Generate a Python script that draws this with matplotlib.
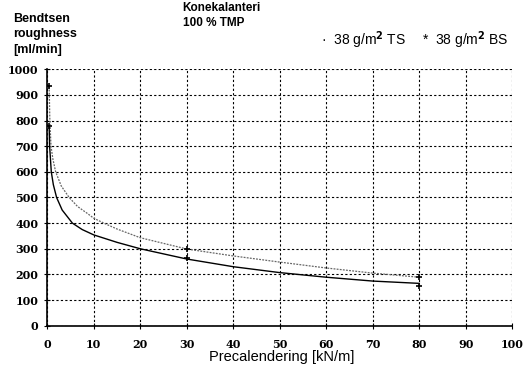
import matplotlib.pyplot as plt

# measured points
x_pts = [0.4, 30, 80]
ts_pts = [933, 298, 190]
bs_pts = [779, 264, 155]

# trend curves
ts_curve_x = [0.4, 0.55, 0.8, 1.2, 1.8, 3, 4.7, 6.5, 8.6, 10, 12.4, 15, 20, 30, 40, 50, 60, 70, 80]
ts_curve_y = [933, 800, 700, 650, 600, 545, 500, 465, 438, 419, 398, 377, 343, 299, 272, 248, 225, 205, 189]
bs_curve_x = [0.4, 0.5, 0.86, 1.3, 2.0, 3.2, 5.4, 7.5, 10, 15, 20, 30, 40, 50, 60, 70, 80]
bs_curve_y = [779, 700, 600, 550, 500, 451, 400, 375, 354, 325, 300, 260, 230, 207, 189, 174, 165]

x_ticks = [0, 10, 20, 30, 40, 50, 60, 70, 80, 90, 100]
y_ticks = [0, 100, 200, 300, 400, 500, 600, 700, 800, 900, 1000]

fig = plt.figure(figsize=(5.29, 3.78), dpi=100)
ax = fig.add_axes([0.0894, 0.1384, 0.8791, 0.6783])

ax.plot(ts_curve_x, ts_curve_y, color="#666666", lw=0.9, ls=(0, (1.5, 1)))
ax.plot(bs_curve_x, bs_curve_y, color="black", lw=1.0)
ax.plot(x_pts, ts_pts, ls="none", marker="+", ms=4, mew=1.2, color="black")
ax.plot(x_pts, bs_pts, ls="none", marker="+", ms=4, mew=1.2, color="black")

ax.set_xlim(0, 100)
ax.set_ylim(0, 1000)
ax.set_xticks(x_ticks)
ax.set_yticks(y_ticks)
ax.grid(True, color="black", ls=(0, (2, 2)), lw=0.8)
for s in ["top", "right"]:
    ax.spines[s].set_visible(False)
for s in ["left", "bottom"]:
    ax.spines[s].set_linewidth(1.2)
ax.tick_params(direction="inout", length=5, width=0.8, pad=4,
               labelsize=8, labelfontfamily="DejaVu Serif")
ax.tick_params(axis="x", pad=7)
for lab in ax.get_xticklabels() + ax.get_yticklabels():
    lab.set_fontweight("bold")

ax.set_xlabel("Precalendering [kN/m]", fontfamily="Liberation Sans", fontsize=10.5)
ax.xaxis.set_label_coords(0.503, -0.122)
ax.xaxis.label.set_va("center")

fig.text(0.025, 0.965, "Bendtsen\nroughness\n[ml/min]", fontfamily="Liberation Sans",
         fontweight="bold", fontsize=9, va="top", linespacing=1.35)
fig.text(0.345, 0.995, "Konekalanteri\n100 % TMP", fontfamily="Liberation Sans",
         fontweight="bold", fontsize=8.5, va="top", linespacing=1.3)
fig.text(0.607, 0.894, "·  38 g/m$^\\mathbf{2}$ TS", fontfamily="Liberation Sans",
         fontsize=10, va="center")
fig.text(0.797, 0.894, "*  38 g/m$^\\mathbf{2}$ BS", fontfamily="Liberation Sans",
         fontsize=10, va="center")

fig.savefig("out.png", dpi=100)
